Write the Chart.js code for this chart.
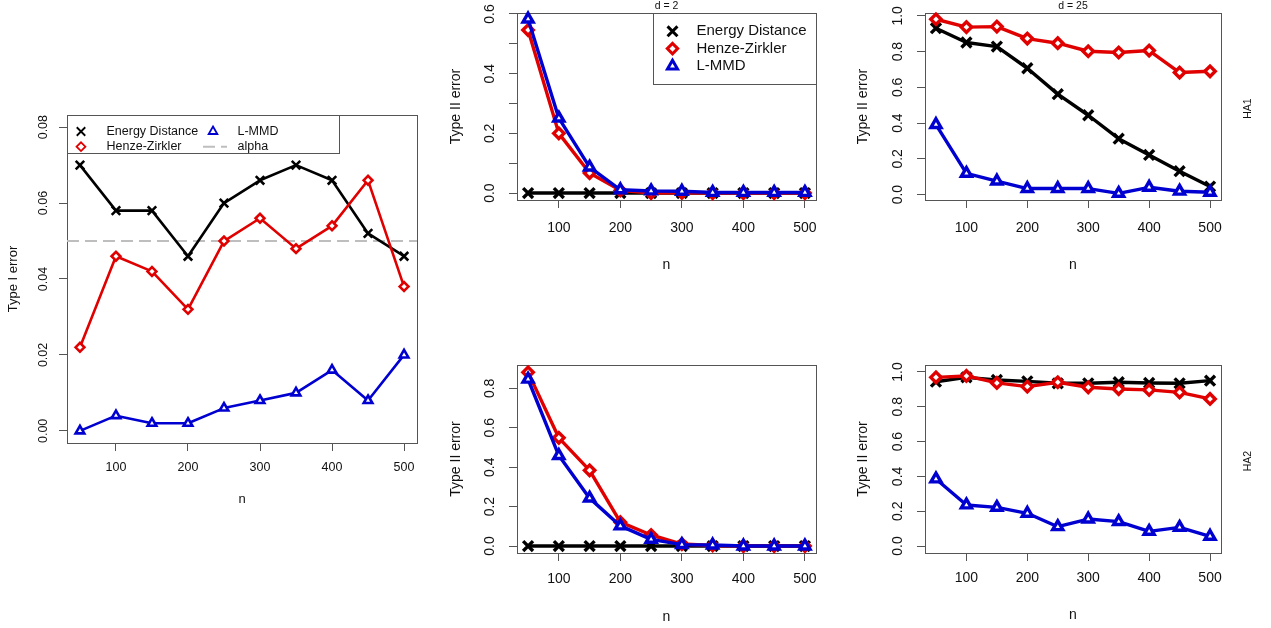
<!DOCTYPE html>
<html>
<head>
<meta charset="utf-8">
<title>Type I and Type II error</title>
<script src="https://cdn.jsdelivr.net/npm/chart.js@4.4.1/dist/chart.umd.min.js"></script>
<style>
  html, body { margin: 0; padding: 0; background: #ffffff; }
  #figure { position: relative; width: 1271px; height: 628px; overflow: hidden; background: #ffffff; }
  #figure canvas { position: absolute; }
</style>
</head>
<body>
<div id="figure">
  <canvas id="panelTypeI"></canvas>
  <canvas id="panelD2HA1"></canvas>
  <canvas id="panelD25HA1"></canvas>
  <canvas id="panelD2HA2"></canvas>
  <canvas id="panelD25HA2"></canvas>
</div>
<script>
// ---------------- data ----------------
const nValues = [50, 100, 150, 200, 250, 300, 350, 400, 450, 500];
const xTickValues = [100, 200, 300, 400, 500];

const seriesNames = ['Energy Distance', 'Henze-Zirkler', 'L-MMD'];
const alphaLevel = 0.05;

// Type I error
const typeIEnergy = [0.070, 0.058, 0.058, 0.046, 0.060, 0.066, 0.070, 0.066, 0.052, 0.046];
const typeIHenze  = [0.022, 0.046, 0.042, 0.032, 0.050, 0.056, 0.048, 0.054, 0.066, 0.038];
const typeILMMD   = [0.000, 0.004, 0.002, 0.002, 0.006, 0.008, 0.010, 0.016, 0.008, 0.020];
const typeITicks = [0, 0.02, 0.04, 0.06, 0.08];
const typeITickLabels = ['0.00', '0.02', '0.04', '0.06', '0.08'];

// d = 2, HA1
const d2HA1Energy = [0, 0, 0, 0, 0, 0, 0, 0, 0, 0];
const d2HA1Henze  = [0.546, 0.200, 0.067, 0.009, 0.000, 0.001, 0.000, 0.000, 0.000, 0.000];
const d2HA1LMMD   = [0.583, 0.251, 0.087, 0.011, 0.007, 0.006, 0.002, 0.002, 0.002, 0.002];
const d2HA1Ticks = [0, 0.1, 0.2, 0.3, 0.4, 0.5, 0.6];
const d2HA1TickLabels = ['0.0', '', '0.2', '', '0.4', '', '0.6'];

// d = 25, HA1
const d25HA1Energy = [0.931, 0.851, 0.828, 0.707, 0.562, 0.444, 0.313, 0.222, 0.131, 0.045];
const d25HA1Henze  = [0.981, 0.937, 0.940, 0.873, 0.847, 0.802, 0.795, 0.806, 0.683, 0.690];
const d25HA1LMMD   = [0.392, 0.119, 0.076, 0.034, 0.034, 0.034, 0.007, 0.041, 0.019, 0.013];

// d = 2, HA2
const d2HA2Energy = [0, 0, 0, 0, 0, 0, 0, 0, 0, 0];
const d2HA2Henze  = [0.881, 0.549, 0.384, 0.121, 0.056, 0.010, 0.003, 0.000, 0.000, 0.000];
const d2HA2LMMD   = [0.846, 0.459, 0.243, 0.102, 0.034, 0.007, 0.005, 0.000, 0.000, 0.000];
const d2HA2Ticks = [0, 0.2, 0.4, 0.6, 0.8];
const d2HA2TickLabels = ['0.0', '0.2', '0.4', '0.6', '0.8'];

// d = 25, HA2
const d25HA2Energy = [0.944, 0.969, 0.954, 0.946, 0.935, 0.935, 0.941, 0.937, 0.935, 0.950];
const d25HA2Henze  = [0.969, 0.977, 0.937, 0.916, 0.941, 0.912, 0.902, 0.897, 0.883, 0.845];
const d25HA2LMMD   = [0.385, 0.236, 0.222, 0.188, 0.111, 0.155, 0.140, 0.084, 0.107, 0.056];

const unitTicks = [0, 0.2, 0.4, 0.6, 0.8, 1.0];
const unitTickLabels = ['0.0', '0.2', '0.4', '0.6', '0.8', '1.0'];

// ---------------- styling ----------------
const FONT = '"Liberation Sans", Arimo, Arial, Helvetica, sans-serif';
const COLORS = { energy: '#000000', henze: '#e00000', lmmd: '#0000d0', alpha: '#bebebe', frame: '#555555', text: '#111111' };
const STYLES = { energy: 'crossRot', henze: 'rectRot', lmmd: 'triangle' };
const TICK_LEN = 8;

function measureWidest(labels, size) {
  const c = document.createElement('canvas').getContext('2d');
  c.font = 'normal ' + size + 'px ' + FONT;
  return Math.max.apply(null, labels.map(l => c.measureText(l).width));
}

function drawMarker(ctx, style, r, x, y, color, lw) {
  ctx.save();
  ctx.strokeStyle = color; ctx.fillStyle = '#ffffff'; ctx.lineWidth = lw;
  ctx.beginPath();
  if (style === 'crossRot') {
    const d = r * Math.SQRT1_2;
    ctx.moveTo(x - d, y - d); ctx.lineTo(x + d, y + d);
    ctx.moveTo(x + d, y - d); ctx.lineTo(x - d, y + d);
    ctx.stroke();
  } else if (style === 'rectRot') {
    ctx.moveTo(x - r, y); ctx.lineTo(x, y - r); ctx.lineTo(x + r, y); ctx.lineTo(x, y + r);
    ctx.closePath(); ctx.fill(); ctx.stroke();
  } else {
    let a = 0;
    ctx.moveTo(x + Math.sin(a) * r, y - Math.cos(a) * r);
    a += 2 * Math.PI / 3; ctx.lineTo(x + Math.sin(a) * r, y - Math.cos(a) * r);
    a += 2 * Math.PI / 3; ctx.lineTo(x + Math.sin(a) * r, y - Math.cos(a) * r);
    ctx.closePath(); ctx.fill(); ctx.stroke();
  }
  ctx.restore();
}

// frame around the plotting region (R's box())
const framePlugin = {
  id: 'rFrame',
  beforeDatasetsDraw(chart) {
    const a = chart.chartArea, ctx = chart.ctx;
    ctx.save();
    ctx.strokeStyle = COLORS.frame; ctx.lineWidth = 1;
    ctx.strokeRect(Math.round(a.left) + 0.5, Math.round(a.top) + 0.5,
                   Math.round(a.right - a.left), Math.round(a.bottom - a.top));
    ctx.restore();
  }
};

// legend, panel title and side label
const decorPlugin = {
  id: 'rDecor',
  afterDatasetsDraw(chart, args, opts) {
    const ctx = chart.ctx, a = chart.chartArea;
    const ox = opts.ox || 0, oy = opts.oy || 0;
    if (opts.title) {
      ctx.save();
      ctx.font = 'normal ' + opts.title.size + 'px ' + FONT;
      ctx.fillStyle = COLORS.text; ctx.textAlign = 'center'; ctx.textBaseline = 'middle';
      ctx.fillText(opts.title.text, (a.left + a.right) / 2, opts.title.y - oy);
      ctx.restore();
    }
    if (opts.side) {
      ctx.save();
      ctx.font = 'normal ' + opts.side.size + 'px ' + FONT;
      ctx.fillStyle = COLORS.text; ctx.textAlign = 'center'; ctx.textBaseline = 'middle';
      ctx.translate(opts.side.x - ox, (a.top + a.bottom) / 2 + 2);
      ctx.rotate(-Math.PI / 2);
      ctx.fillText(opts.side.text, 0, 0);
      ctx.restore();
    }
    if (opts.legend) {
      const L = opts.legend;
      ctx.save();
      const bx = Math.round(L.box.l - ox) + 0.5, by = Math.round(L.box.t - oy) + 0.5;
      const bw = Math.round(L.box.r - L.box.l), bh = Math.round(L.box.b - L.box.t);
      ctx.fillStyle = '#ffffff'; ctx.fillRect(bx, by, bw, bh);
      ctx.strokeStyle = COLORS.frame; ctx.lineWidth = 1; ctx.strokeRect(bx, by, bw, bh);
      ctx.font = 'normal ' + L.size + 'px ' + FONT;
      ctx.textAlign = 'left'; ctx.textBaseline = 'middle';
      L.items.forEach(it => {
        const ds = chart.data.datasets[it.dataset];
        const y = it.y - oy;
        if (ds.isRefLine) {
          ctx.save();
          ctx.strokeStyle = ds.borderColor; ctx.lineWidth = ds.borderWidth;
          ctx.setLineDash(ds.borderDash);
          ctx.beginPath(); ctx.moveTo(it.x1 - ox, y); ctx.lineTo(it.x2 - ox, y); ctx.stroke();
          ctx.restore();
        } else {
          drawMarker(ctx, ds.pointStyle, ds.pointRadius, it.x - ox, y, ds.borderColor, L.markerWidth);
        }
        ctx.fillStyle = COLORS.text;
        ctx.fillText(ds.label, it.tx - ox, y);
      });
      ctx.restore();
    }
  }
};

function makePanel(spec) {
  const cv = document.getElementById(spec.id);
  const C = spec.canvas, box = spec.box;
  cv.width = C.w; cv.height = C.h;
  cv.style.left = C.x + 'px'; cv.style.top = C.y + 'px';
  const fs = spec.fontSize, lh = fs * 1.2;
  const tfs = spec.titleSize, tlh = tfs * 1.2;
  const widest = measureWidest(spec.yTickLabels, fs);
  const yTickPad = box.l - TICK_LEN - widest / 2 - spec.yTickX;
  const xTickPad = spec.xTickY - box.b - TICK_LEN - lh / 2;
  const yTitlePad = spec.yTitleX - C.x - tlh / 2;
  const xTitlePad = (C.y + C.h) - spec.xTitleY - tlh / 2;
  const xy = vals => nValues.map((n, i) => ({ x: n, y: vals[i] }));

  const datasets = spec.series.map(s => ({
    label: s.label,
    data: xy(s.values),
    borderColor: s.color,
    backgroundColor: s.color,
    borderWidth: spec.lineWidth,
    borderJoinStyle: 'round',
    borderCapStyle: 'round',
    pointStyle: s.style,
    pointRadius: spec.radius[s.style],
    pointHoverRadius: spec.radius[s.style],
    pointBorderWidth: spec.lineWidth,
    pointBorderColor: s.color,
    pointBackgroundColor: '#ffffff',
    tension: 0,
    clip: false,
    order: s.order
  }));
  if (spec.alpha !== undefined) {
    datasets.push({
      label: 'alpha',
      data: [{ x: spec.xMin, y: spec.alpha }, { x: spec.xMax, y: spec.alpha }],
      borderColor: COLORS.alpha,
      borderWidth: 2,
      borderDash: [12, 6],
      pointRadius: 0,
      tension: 0,
      order: 9,
      isRefLine: true
    });
  }

  const grid = { display: true, drawOnChartArea: false, drawTicks: true, tickLength: TICK_LEN, color: COLORS.frame, lineWidth: 1 };
  const zeroPad = s => { s.paddingLeft = 0; s.paddingRight = 0; s.paddingTop = 0; s.paddingBottom = 0; };

  return new Chart(cv, {
    type: 'line',
    data: { datasets },
    plugins: [framePlugin, decorPlugin],
    options: {
      responsive: false,
      animation: false,
      events: [],
      layout: {
        autoPadding: false,
        padding: { left: 0, top: box.t - C.y, right: C.x + C.w - box.r, bottom: 0 }
      },
      plugins: {
        legend: { display: false },
        tooltip: { enabled: false },
        title: { display: false },
        rDecor: Object.assign({ ox: C.x, oy: C.y }, spec.decor || {})
      },
      scales: {
        x: {
          type: 'linear', position: 'bottom', min: spec.xMin, max: spec.xMax, bounds: 'data',
          afterBuildTicks: s => { s.ticks = xTickValues.map(v => ({ value: v })); },
          afterFit: s => { s.height = C.y + C.h - box.b; zeroPad(s); },
          grid: grid,
          border: { display: false },
          ticks: {
            autoSkip: false, maxRotation: 0, minRotation: 0, padding: xTickPad,
            color: COLORS.text, font: { family: FONT, size: fs },
            callback: v => String(v)
          },
          title: { display: true, text: 'n', color: COLORS.text, font: { family: FONT, size: tfs }, padding: { top: 0, bottom: xTitlePad } }
        },
        y: {
          type: 'linear', position: 'left', min: spec.yMin, max: spec.yMax, bounds: 'data',
          afterBuildTicks: s => { s.ticks = spec.yTicks.map(v => ({ value: v })); },
          afterFit: s => { s.width = box.l - C.x; zeroPad(s); },
          grid: grid,
          border: { display: false },
          ticks: {
            autoSkip: false, minRotation: 90, maxRotation: 90, align: 'center', crossAlign: 'center',
            padding: yTickPad, color: COLORS.text, font: { family: FONT, size: fs },
            callback: (v, i) => spec.yTickLabels[i]
          },
          title: { display: true, text: spec.yTitle, color: COLORS.text, font: { family: FONT, size: tfs }, padding: { top: yTitlePad, bottom: 0 } }
        }
      }
    }
  });
}

function threeSeries(energy, henze, lmmd) {
  return [
    { label: seriesNames[0], values: energy, color: COLORS.energy, style: STYLES.energy, order: 3 },
    { label: seriesNames[1], values: henze, color: COLORS.henze, style: STYLES.henze, order: 2 },
    { label: seriesNames[2], values: lmmd, color: COLORS.lmmd, style: STYLES.lmmd, order: 1 }
  ];
}

const bigRadius = { crossRot: 7, rectRot: 5.2, triangle: 5.8 };
const smallRadius = { crossRot: 6, rectRot: 4.4, triangle: 5 };

// Left: Type I error
makePanel({
  id: 'panelTypeI',
  canvas: { x: 0, y: 100, w: 425, h: 420 },
  box: { l: 67, t: 115, r: 417, b: 443 },
  xMin: 32, xMax: 518, yMin: -0.0032, yMax: 0.0832,
  yTicks: typeITicks, yTickLabels: typeITickLabels,
  fontSize: 12.5, titleSize: 13,
  yTickX: 43.5, yTitleX: 13.5, xTickY: 467.7, xTitleY: 499.3,
  yTitle: 'Type I error',
  lineWidth: 2.6, radius: smallRadius,
  series: threeSeries(typeIEnergy, typeIHenze, typeILMMD),
  alpha: alphaLevel,
  decor: {
    legend: {
      box: { l: 67, t: 115, r: 339, b: 153 }, size: 12.5, markerWidth: 1.8,
      items: [
        { dataset: 0, x: 81, y: 131.5, tx: 106.5 },
        { dataset: 1, x: 81, y: 146.7, tx: 106.5 },
        { dataset: 2, x: 213, y: 131.5, tx: 237.5 },
        { dataset: 3, x1: 203, x2: 227, y: 146.7, tx: 237.5 }
      ]
    }
  }
});

// Top middle: d = 2, HA1
makePanel({
  id: 'panelD2HA1',
  canvas: { x: 425, y: 0, w: 400, h: 290 },
  box: { l: 517, t: 13, r: 816, b: 200 },
  xMin: 32, xMax: 518, yMin: -0.0232, yMax: 0.6032,
  yTicks: d2HA1Ticks, yTickLabels: d2HA1TickLabels,
  fontSize: 14, titleSize: 14,
  yTickX: 490, yTitleX: 456, xTickY: 228.3, xTitleY: 265,
  yTitle: 'Type II error',
  lineWidth: 3.4, radius: bigRadius,
  series: threeSeries(d2HA1Energy, d2HA1Henze, d2HA1LMMD),
  decor: {
    title: { text: 'd = 2', size: 10.5, y: 6.5 },
    legend: {
      box: { l: 653, t: 13, r: 816, b: 84 }, size: 15, markerWidth: 3,
      items: [
        { dataset: 0, x: 672.5, y: 31.3, tx: 696.5 },
        { dataset: 1, x: 672.5, y: 48.6, tx: 696.5 },
        { dataset: 2, x: 672.5, y: 66.0, tx: 696.5 }
      ]
    }
  }
});

// Top right: d = 25, HA1
makePanel({
  id: 'panelD25HA1',
  canvas: { x: 825, y: 0, w: 446, h: 290 },
  box: { l: 925, t: 13, r: 1221, b: 200 },
  xMin: 32, xMax: 518, yMin: -0.03, yMax: 1.016,
  yTicks: unitTicks, yTickLabels: unitTickLabels,
  fontSize: 14, titleSize: 14,
  yTickX: 898, yTitleX: 863.5, xTickY: 228.3, xTitleY: 265,
  yTitle: 'Type II error',
  lineWidth: 3.4, radius: bigRadius,
  series: threeSeries(d25HA1Energy, d25HA1Henze, d25HA1LMMD),
  decor: {
    title: { text: 'd = 25', size: 10.5, y: 6.5 },
    side: { text: 'HA1', size: 10.5, x: 1248 }
  }
});

// Bottom middle: d = 2, HA2
makePanel({
  id: 'panelD2HA2',
  canvas: { x: 425, y: 290, w: 400, h: 338 },
  box: { l: 517, t: 365, r: 816, b: 553 },
  xMin: 32, xMax: 518, yMin: -0.0353, yMax: 0.9183,
  yTicks: d2HA2Ticks, yTickLabels: d2HA2TickLabels,
  fontSize: 14, titleSize: 14,
  yTickX: 490, yTitleX: 456, xTickY: 579.3, xTitleY: 616.7,
  yTitle: 'Type II error',
  lineWidth: 3.4, radius: bigRadius,
  series: threeSeries(d2HA2Energy, d2HA2Henze, d2HA2LMMD)
});

// Bottom right: d = 25, HA2
makePanel({
  id: 'panelD25HA2',
  canvas: { x: 825, y: 290, w: 446, h: 338 },
  box: { l: 925, t: 365, r: 1221, b: 553 },
  xMin: 32, xMax: 518, yMin: -0.04, yMax: 1.04,
  yTicks: unitTicks, yTickLabels: unitTickLabels,
  fontSize: 14, titleSize: 14,
  yTickX: 898, yTitleX: 863.5, xTickY: 578.5, xTitleY: 615.5,
  yTitle: 'Type II error',
  lineWidth: 3.4, radius: bigRadius,
  series: threeSeries(d25HA2Energy, d25HA2Henze, d25HA2LMMD),
  decor: {
    side: { text: 'HA2', size: 10.5, x: 1248 }
  }
});
</script>
</body>
</html>
